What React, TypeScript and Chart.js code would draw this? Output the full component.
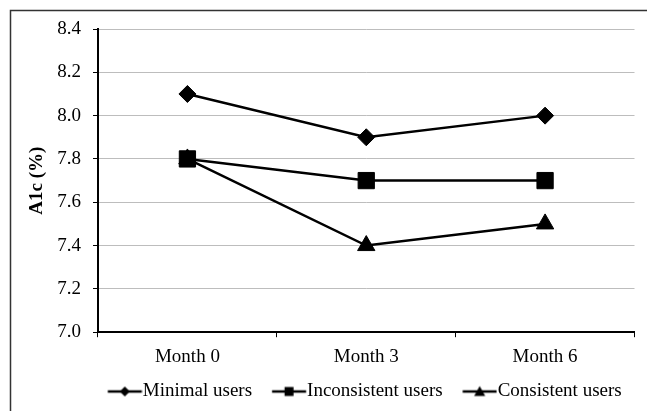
import React, { useEffect, useRef } from "react";
import { Chart, registerables } from "chart.js";

Chart.register(...registerables);

const categories = ["Month 0", "Month 3", "Month 6"];
const minimalUsers = [8.1, 7.9, 8.0];
const inconsistentUsers = [7.8, 7.7, 7.7];
const consistentUsers = [7.8, 7.4, 7.5];
const seriesNames = ["Minimal users", "Inconsistent users", "Consistent users"];
const yTitle = "A1c (%)";

const FONT = "'Liberation Serif', 'Times New Roman', serif";

// legend symbol: a short line with the series marker, drawn in the right part of the canvas
const ICON_W = 58;
const ICON_H = 16;
const LINE_START = 23.25;
const LINE_LEN = 34;

function makeLegendIcon(style: string): HTMLCanvasElement {
  const c = document.createElement("canvas");
  c.width = ICON_W;
  c.height = ICON_H;
  const ctx = c.getContext("2d")!;
  const cy = ICON_H / 2;
  const cx = LINE_START + LINE_LEN / 2;
  ctx.strokeStyle = "#000";
  ctx.lineWidth = 2.5;
  ctx.beginPath();
  ctx.moveTo(LINE_START, cy);
  ctx.lineTo(LINE_START + LINE_LEN, cy);
  ctx.stroke();
  ctx.fillStyle = "#000";
  ctx.beginPath();
  if (style === "rectRot") {
    ctx.moveTo(cx, cy - 5);
    ctx.lineTo(cx + 5, cy);
    ctx.lineTo(cx, cy + 5);
    ctx.lineTo(cx - 5, cy);
  } else if (style === "rect") {
    ctx.rect(cx - 4.5, cy - 4.5, 9, 9);
  } else {
    ctx.moveTo(cx, cy - 5.5);
    ctx.lineTo(cx + 5.5, cy + 4.5);
    ctx.lineTo(cx - 5.5, cy + 4.5);
  }
  ctx.closePath();
  ctx.fill();
  return c;
}

const frame = {
  id: "frame",
  beforeDraw(chart: any) {
    const ctx = chart.ctx;
    ctx.save();
    ctx.fillStyle = "#fff";
    ctx.fillRect(0, 0, chart.width, chart.height);
    ctx.strokeStyle = "#333";
    ctx.lineWidth = 1.5;
    ctx.strokeRect(10.5, 10.5, 700, 500);
    ctx.restore();
  },
};

// centre the legend row under the plot area
const legendUnderPlot = {
  id: "legendUnderPlot",
  afterLayout(chart: any) {
    const lg = chart.legend;
    const ca = chart.chartArea;
    if (!lg || !ca) return;
    const dx = (ca.left + ca.right) / 2 - 8.5 - (lg.left + lg.right) / 2;
    lg.left += dx;
    lg.right += dx;
  },
};

export default function App() {
  const ref = useRef<HTMLCanvasElement>(null);
  useEffect(() => {
    const styles = ["rectRot", "rect", "triangle"];
    const icons = styles.map(makeLegendIcon);
    const mk = (label: string, data: number[], ps: string, r: number) => ({
      label,
      data,
      borderColor: "#000",
      backgroundColor: "#000",
      borderWidth: 2.5,
      pointStyle: ps,
      pointRadius: r,
      pointBorderWidth: 1,
      tension: 0,
    });
    const chart = new Chart(ref.current!, {
      type: "line",
      data: {
        labels: categories,
        datasets: [
          mk(seriesNames[0], minimalUsers, "rectRot", 8.5),
          mk(seriesNames[1], inconsistentUsers, "rect", 11.5),
          mk(seriesNames[2], consistentUsers, "triangle", 10),
        ],
      },
      options: {
        responsive: false,
        animation: false,
        layout: { padding: { left: 11, right: 11, top: 29, bottom: 0 } },
        plugins: {
          tooltip: { enabled: false },
          legend: {
            position: "bottom",
            labels: {
              usePointStyle: true,
              pointStyleWidth: 39.5,
              padding: 6,
              color: "#000",
              font: { family: FONT, size: 19 },
              generateLabels: (ch: any) =>
                ch.data.datasets.map((d: any, i: number) => ({
                  text: d.label,
                  pointStyle: icons[i],
                  fillStyle: "#000",
                  strokeStyle: "#000",
                  lineWidth: 0,
                  fontColor: "#000",
                  datasetIndex: i,
                  hidden: false,
                })),
            },
          },
        },
        scales: {
          x: {
            offset: true,
            grid: {
              offset: true,
              drawOnChartArea: false,
              tickLength: 5,
              tickColor: "#000",
              lineWidth: 1,
            },
            border: { color: "#000", width: 2 },
            ticks: { color: "#000", font: { family: FONT, size: 19 }, padding: 8 },
          },
          y: {
            min: 7.0,
            max: 8.4,
            afterFit: (s: any) => {
              s.width = 87;
            },
            ticks: {
              stepSize: 0.2,
              color: "#000",
              font: { family: FONT, size: 19 },
              padding: 12,
              callback: (v: any) => Number(v).toFixed(1),
            },
            grid: { color: "#bdbdbd", tickColor: "#000", tickLength: 5, lineWidth: 1 },
            border: { color: "#000", width: 2 },
            title: {
              display: true,
              text: yTitle,
              color: "#000",
              font: { family: FONT, size: 19, weight: "bold" },
              padding: { top: 14.5, bottom: 0 },
            },
          },
        },
      },
      plugins: [frame, legendUnderPlot],
    });
    return () => chart.destroy();
  }, []);
  return (
    <div style={{ position: "absolute", left: 0, top: 0, width: 647, height: 411 }}>
      <canvas ref={ref} width={647} height={411} style={{ display: "block" }} />
    </div>
  );
}
